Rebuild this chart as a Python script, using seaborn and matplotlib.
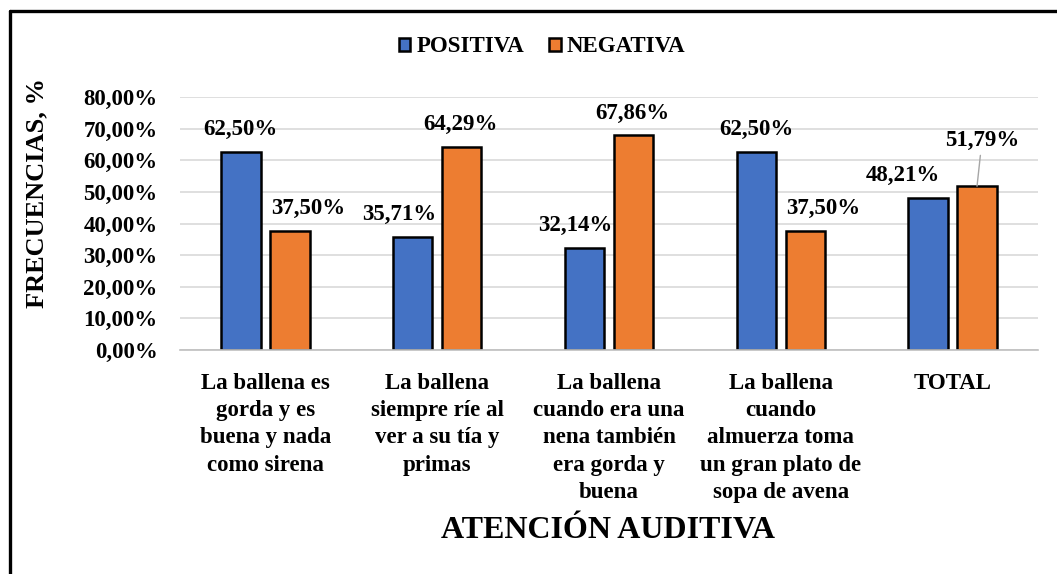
import matplotlib
matplotlib.use("Agg")
import matplotlib.pyplot as plt
import seaborn as sns
import pandas as pd
from matplotlib.patches import Patch
from matplotlib.lines import Line2D
from matplotlib.ticker import FuncFormatter

categories = [
    "La ballena es\ngorda y es\nbuena y nada\ncomo sirena",
    "La ballena\nsiempre ríe al\nver a su tía y\nprimas",
    "La ballena\ncuando era una\nnena también\nera gorda y\nbuena",
    "La ballena\ncuando\nalmuerza toma\nun gran plato de\nsopa de avena",
    "TOTAL",
]
series_names = ["POSITIVA", "NEGATIVA"]
positiva = [62.50, 35.71, 32.14, 62.50, 48.21]
negativa = [37.50, 64.29, 67.86, 37.50, 51.79]
y_ticks = [0, 10, 20, 30, 40, 50, 60, 70, 80]

colors = ["#4472C4", "#ED7D31"]
FONT = "Liberation Serif"

df = pd.DataFrame({
    "cat": categories * 2,
    "serie": [series_names[0]] * len(categories) + [series_names[1]] * len(categories),
    "val": positiva + negativa,
})

sns.set_theme(style="white")
plt.rcParams["font.family"] = [FONT, "DejaVu Serif"]
plt.rcParams["font.weight"] = "bold"
plt.rcParams["text.color"] = "black"
plt.rcParams["xtick.color"] = "black"
plt.rcParams["ytick.color"] = "black"
plt.rcParams["axes.labelcolor"] = "black"

fig = plt.figure(figsize=(10.57, 5.74), dpi=100)
ax = fig.add_axes([179.6 / 1057, 1 - 350 / 574, (1038.4 - 179.6) / 1057, (350 - 97) / 574])

sns.barplot(data=df, x="cat", y="val", hue="serie", order=categories,
            hue_order=series_names, palette=colors, saturation=1, width=0.5706, gap=0.2,
            edgecolor="black", linewidth=1.8, legend=False, ax=ax, zorder=3)

ax.set_ylim(0, 80)
ax.set_xlim(-0.5, len(categories) - 0.5)
ax.set_yticks(y_ticks)
ax.yaxis.set_major_formatter(FuncFormatter(lambda v, p: f"{v:.2f}%".replace(".", ",")))
ax.grid(axis="y", color="#D9D9D9", linewidth=1.2, zorder=0)
ax.set_axisbelow(True)
for s in ["top", "right", "left"]:
    ax.spines[s].set_visible(False)
ax.spines["bottom"].set_color("#BFBFBF")
ax.spines["bottom"].set_linewidth(1.2)
ax.spines["bottom"].set_zorder(5)
ax.tick_params(axis="y", length=0, pad=16, labelsize=16.5, labelcolor="black")
ax.tick_params(axis="x", length=0, pad=16.5, labelsize=16.5, labelcolor="black")
for lbl in ax.get_xticklabels():
    lbl.set_fontweight("bold")
    lbl.set_linespacing(1.39)
    lbl.set_verticalalignment("top")
for lbl in ax.get_yticklabels():
    lbl.set_fontweight("bold")
ax.set_xlabel("")
ax.set_ylabel("")

# data labels (offsets in points from bar top)
dx_off = [[-1, -14, -9, 0, -25], [18, -1, -1, 18, 5]]
dy_off = [[22.5, 23, 23, 22.5, 22.5], [23, 22, 22, 23, 46]]
for si, cont in enumerate(ax.containers):
    for bi, bar in enumerate(cont):
        h = bar.get_height()
        xc = bar.get_x() + bar.get_width() / 2
        txt = f"{h:.2f}%".replace(".", ",")
        kw = {}
        if si == 1 and bi == 4:
            kw["arrowprops"] = dict(arrowstyle="-", color="#A6A6A6", lw=1.0,
                                    shrinkA=1, shrinkB=0)
        ax.annotate(txt, xy=(xc, h), xytext=(dx_off[si][bi] * 0.72, dy_off[si][bi] * 0.72),
                    textcoords="offset points", ha="center", va="center",
                    fontsize=16.5, fontweight="bold", color="black", **kw)

# axis titles
fig.text(37 / 1057, 1 - 193 / 574, "FRECUENCIAS, %", rotation=90, ha="center",
         va="center", fontsize=19, fontweight="bold")
fig.text(608 / 1057, 1 - 531 / 574, "ATENCIÓN AUDITIVA", ha="center", va="center",
         fontsize=23, fontweight="bold")

# legend
handles = [Patch(facecolor=c, edgecolor="black", linewidth=1.8) for c in colors]
fig.legend(handles, series_names, loc="center", bbox_to_anchor=(542 / 1057, 1 - 47 / 574),
           ncol=2, frameon=False, handlelength=0.5, handleheight=0.5,
           handletextpad=0.25, columnspacing=1.1,
           prop={"family": FONT, "weight": "bold", "size": 16.5})

# outer frame (left and top lines)
fig.add_artist(Line2D([10 / 1057, 10 / 1057], [0, 1 - 11 / 574], color="black",
                      linewidth=2.4, transform=fig.transFigure))
fig.add_artist(Line2D([10 / 1057, 1], [1 - 11 / 574, 1 - 11 / 574], color="black",
                      linewidth=2.4, transform=fig.transFigure))

fig.savefig("out.png", dpi=100)
